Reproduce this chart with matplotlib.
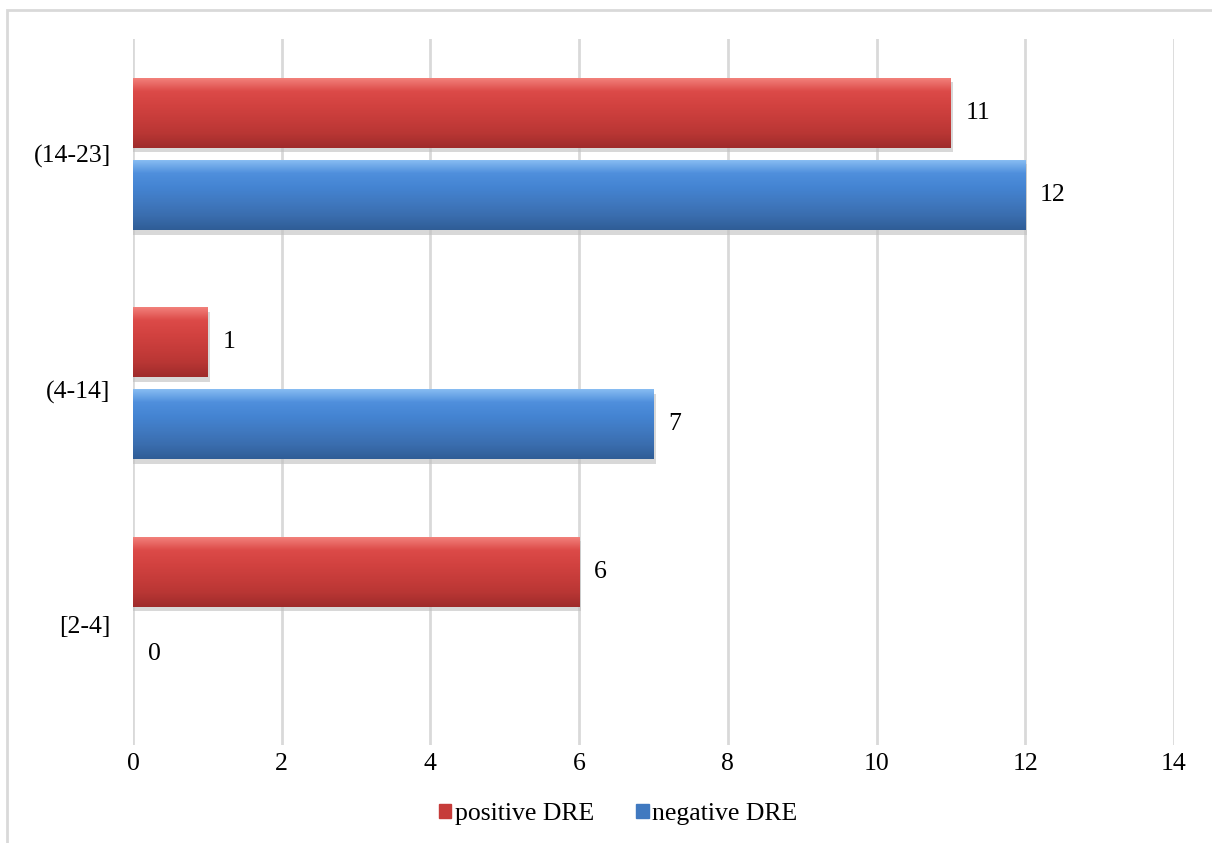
import numpy as np
import matplotlib.pyplot as plt
from matplotlib.patches import Rectangle
from matplotlib.colors import LinearSegmentedColormap

# data
categories = ["[2-4]", "(4-14]", "(14-23]"]
positive_dre = [6, 1, 11]
negative_dre = [0, 7, 12]

plt.rcParams["font.family"] = ["Liberation Serif", "DejaVu Serif"]

fig = plt.figure(figsize=(12.12, 8.43), dpi=100)
ax = fig.add_axes([0.1097, 0.1163, 0.8589, 0.8374])

# outer chart frame (cropped on the right and bottom like the original)
fig.patches.append(Rectangle((7 / 1212, -0.05), 1.1, 1 - 10 / 843 + 0.05,
                             transform=fig.transFigure, fill=False,
                             edgecolor="#D9D9D9", linewidth=2, zorder=0))

y = np.arange(len(categories))
h = 0.305
off = 0.179

red_cmap = LinearSegmentedColormap.from_list(
    "red3d", ["#9E2B2B", "#B83634", "#C63C3A", "#D24240", "#DC4A48", "#F4857F"])
blue_cmap = LinearSegmentedColormap.from_list(
    "blue3d", ["#2F5D96", "#3A6DAE", "#4079C0", "#4484D2", "#4F8FDC", "#8CC0F4"])

pos_bars = ax.barh(y + off, positive_dre, height=h, color="#C63C3A", zorder=3,
                   label="positive DRE")
neg_bars = ax.barh(y - off, negative_dre, height=h, color="#4079C0", zorder=3,
                   label="negative DRE")

grad = np.linspace(0, 1, 256).reshape(-1, 1)
for bars, cmap in [(pos_bars, red_cmap), (neg_bars, blue_cmap)]:
    for b in bars:
        w = b.get_width()
        if w <= 0:
            continue
        x0, y0, bh = b.get_x(), b.get_y(), b.get_height()
        # soft shadow under the bar
        ax.add_patch(Rectangle((x0, y0 - 0.02), w + 0.03, bh, color="#BFBFBF",
                               alpha=0.6, zorder=2, linewidth=0))
        im = ax.imshow(grad, cmap=cmap, aspect="auto", origin="lower",
                       extent=(x0, x0 + w, y0, y0 + bh), zorder=4)
        im.set_clip_path(b)

for bars, vals in [(pos_bars, positive_dre), (neg_bars, negative_dre)]:
    for b, v in zip(bars, vals):
        ax.text(b.get_width() + 0.2, b.get_y() + b.get_height() / 2, str(v),
                va="center", ha="left", fontsize=18.5, zorder=5)

ax.set_xlim(0, 14)
ax.set_ylim(-0.575, 2.5)
ax.set_xticks(range(0, 15, 2))
# category labels sit on an evenly split axis, slightly off the bar pairs
ax.set_yticks(y * 1.026 - 0.052)
ax.set_yticklabels(categories)
ax.tick_params(axis="both", length=0, labelsize=18.5)
ax.tick_params(axis="x", pad=6)
ax.tick_params(axis="y", pad=16)
ax.xaxis.grid(True, color="#D9D9D9", linewidth=2, zorder=0)
ax.set_axisbelow(True)
for s in ax.spines.values():
    s.set_visible(False)

handles = [Rectangle((0, 0), 1, 1, color="#C63C3A"),
           Rectangle((0, 0), 1, 1, color="#4079C0")]
fig.legend(handles, ["positive DRE", "negative DRE"], loc="center",
           bbox_to_anchor=(0.51, 1 - 814 / 843), ncol=2, frameon=False,
           fontsize=18.5, handlelength=0.5, handleheight=0.5, handletextpad=0.15,
           columnspacing=1.6)

fig.savefig("out.png", dpi=100)
